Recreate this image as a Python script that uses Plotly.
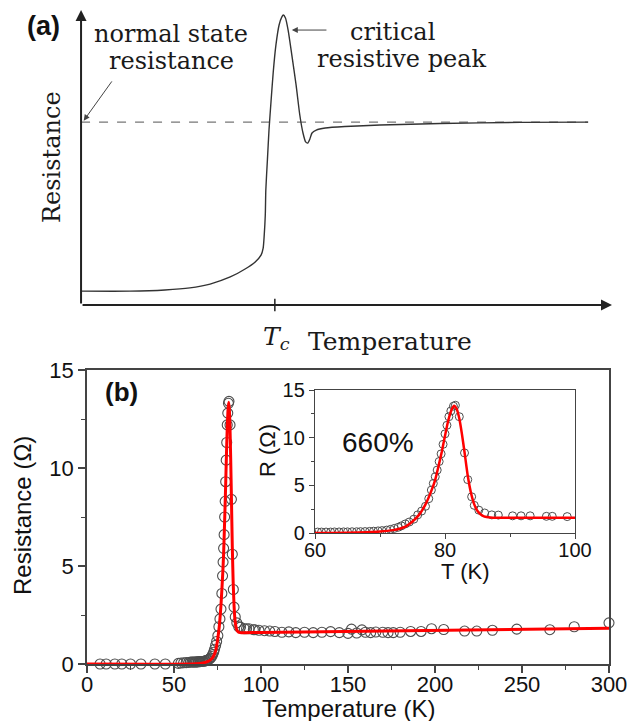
import plotly.graph_objects as go

W, H = 638, 721
OFF = 8  # page body margin that shifts the figure in the browser window

# ---------------- Panel (a): schematic curve (arbitrary units) ----------------
sch_x = [0, 9.2, 15.8, 20.5, 24.3, 28.1, 30.9, 32.8, 33.9, 34.3, 34.5, 34.7, 34.8, 35.1,
         35.4, 35.8, 36.2, 36.7, 37.3, 37.8, 38.1, 38.5, 39.0, 39.7, 40.5, 41.2, 41.8,
         42.3, 42.7, 43.1, 43.5, 44.3, 46.0, 49.7, 56.3, 67.6, 82.7, 95.5]
sch_y = [4.7, 4.7, 5.1, 5.8, 7.1, 9.5, 12.2, 14.6, 16.9, 19.3, 23.7, 30.5, 39.0, 49.2,
         59.3, 69.5, 79.0, 88.1, 94.9, 97.6, 98.3, 97.3, 93.2, 84.7, 74.6, 64.4, 58.3,
         55.3, 54.9, 56.3, 58.3, 59.3, 60.0, 60.5, 61.0, 61.5, 61.9, 62.0]
normal_level_x = [0, 95.5]
normal_level_y = [62.0, 62.0]
tc_pos = 36.5

# ---------------- Panel (b): measured data and fit ----------------
T_meas = [7.5, 11, 16, 20, 25, 31, 39, 45, 52.5, 54, 55.5, 57, 58.5, 59.5, 60.4, 61.0,
          61.7, 62.4, 63.0, 63.7, 64.4, 65.0, 65.7, 66.4, 67.0, 67.7, 68.4, 69.0, 69.7,
          70.3, 71.0, 71.6, 72.2, 72.8, 73.3, 73.9, 74.5, 75.2, 75.8, 76.4, 77.0, 77.5,
          77.9, 78.2, 78.5, 78.8, 79.1, 79.4, 79.7, 80.0, 80.3, 80.6, 80.9, 81.3, 81.6,
          82.2, 83.0, 83.5, 84.1, 84.5, 85.2, 86.1, 87.2, 88.2, 90.4, 91.7, 93.1, 95.6,
          96.5, 98.8, 102, 105, 108, 112, 116, 120, 125, 130, 135, 140, 145, 150, 152,
          155, 158, 160, 163, 166, 170, 173, 176, 180, 186, 192, 198, 205, 217, 224,
          233, 247, 266, 280, 300]
R_meas = [0, 0, 0, 0, 0, 0, 0, 0, 0.03, 0.05, 0.06, 0.07, 0.08, 0.1, 0.1, 0.1,
          0.1, 0.1, 0.11, 0.11, 0.12, 0.12, 0.13, 0.13, 0.14, 0.15, 0.17, 0.19, 0.22,
          0.25, 0.3, 0.38, 0.48, 0.6, 0.75, 0.95, 1.15, 1.45, 1.9, 2.3, 2.8, 3.6,
          4.5, 5.2, 5.9, 6.6, 7.5, 8.3, 9.3, 10.4, 11.3, 12.2, 12.8, 13.3, 13.4,
          12.2, 8.4, 5.6, 3.8, 2.9, 2.4, 2.1, 1.9, 1.88, 1.8, 1.8, 1.8, 1.75,
          1.75, 1.72, 1.7, 1.68, 1.66, 1.62, 1.64, 1.6, 1.62, 1.6, 1.62, 1.65, 1.6, 1.56, 1.78,
          1.58, 1.74, 1.62, 1.6, 1.63, 1.62, 1.6, 1.6, 1.62, 1.66, 1.66, 1.8, 1.76, 1.68, 1.68,
          1.72, 1.78, 1.75, 1.9, 2.1]

T_fit = [0, 60, 65, 68, 70, 72, 73, 74, 75, 76, 77, 78, 78.5, 79, 79.5, 80, 80.5, 81,
         81.4, 81.8, 82.2, 82.6, 83, 83.5, 84, 84.5, 85, 85.5, 86, 87, 88, 90, 100, 300]
R_fit = [0, 0, 0.03, 0.08, 0.15, 0.3, 0.45, 0.7, 1.2, 1.9, 3.0, 4.6, 5.6, 7.0, 8.5, 10.2,
         11.8, 12.9, 13.35, 13.0, 12.0, 10.4, 8.5, 6.0, 4.2, 3.0, 2.3, 1.95, 1.75, 1.63,
         1.6, 1.6, 1.61, 1.82]

main_xticks = [0, 50, 100, 150, 200, 250, 300]
main_yticks = [0, 5, 10, 15]
inset_xticks = [60, 80, 100]
inset_yticks = [0, 5, 10, 15]


def fx(px):
    return (px - OFF) / W


def fy(py):
    return 1 - (py - OFF) / H


SERIF = "DejaVu Serif"
SANS = "Liberation Sans, Arial, sans-serif"

fig = go.Figure()

# Panel (a)
fig.add_trace(go.Scatter(x=normal_level_x, y=normal_level_y, mode="lines",
                         line=dict(color="#777777", width=1.3, dash="dash"),
                         xaxis="x", yaxis="y", showlegend=False, hoverinfo="skip"))
fig.add_trace(go.Scatter(x=sch_x, y=sch_y, mode="lines",
                         line=dict(color="#333333", width=1.4, shape="spline", smoothing=0.6),
                         xaxis="x", yaxis="y", showlegend=False, hoverinfo="skip"))

# Panel (b) main
fig.add_trace(go.Scatter(x=T_meas, y=R_meas, mode="markers",
                         marker=dict(symbol="circle-open", size=10, color="#4d4d4d",
                                     line=dict(width=1.1, color="#4d4d4d")),
                         xaxis="x2", yaxis="y2", showlegend=False, cliponaxis=False))
fig.add_trace(go.Scatter(x=T_fit, y=R_fit, mode="lines",
                         line=dict(color="#ff0000", width=3, shape="spline", smoothing=0.5),
                         xaxis="x2", yaxis="y2", showlegend=False))

# Inset
fig.add_trace(go.Scatter(x=T_meas, y=R_meas, mode="markers",
                         marker=dict(symbol="circle-open", size=8, color="#4d4d4d",
                                     line=dict(width=1, color="#4d4d4d")),
                         xaxis="x3", yaxis="y3", showlegend=False))
fig.add_trace(go.Scatter(x=T_fit, y=R_fit, mode="lines",
                         line=dict(color="#ff0000", width=2.5, shape="spline", smoothing=0.5),
                         xaxis="x3", yaxis="y3", showlegend=False))

# Domains (from window pixel positions)
a_x = [fx(54.5), fx(612)]
a_y = [fy(334.5), fy(10)]
b_x = [fx(87), fx(609)]
b_y = [fy(664), fy(370)]
i_x = [fx(315), fx(575)]
i_y = [fy(533), fy(390)]

hidden = dict(showgrid=False, zeroline=False, showticklabels=False, showline=False, ticks="",
              automargin=False)

main_axis_common = dict(showgrid=False, zeroline=False, showline=True, mirror=True,
                        linecolor="#444444", linewidth=1.5, ticks="outside", ticklen=7,
                        tickwidth=1.5, tickcolor="#444444", automargin=False,
                        tickfont=dict(family=SANS, size=22, color="#111111"))
inset_axis_common = dict(showgrid=False, zeroline=False, showline=True, mirror=True,
                         linecolor="#444444", linewidth=1.3, ticks="outside", ticklen=5,
                         tickwidth=1.3, tickcolor="#444444", automargin=False,
                         tickfont=dict(family=SANS, size=20, color="#111111"))

fig.update_layout(
    width=W, height=H, autosize=False,
    margin=dict(l=0, r=0, t=0, b=0, pad=0, autoexpand=False),
    paper_bgcolor="white", plot_bgcolor="rgba(0,0,0,0)",
    xaxis=dict(domain=a_x, range=[-5, 100], anchor="y", **hidden),
    yaxis=dict(domain=a_y, range=[-10, 100], anchor="x", **hidden),
    xaxis2=dict(domain=b_x, range=[0, 300], anchor="y2", tickvals=main_xticks,
                ticklabelstandoff=-7,
                minor=dict(dtick=25, tick0=0, ticklen=4, ticks="outside", tickcolor="#444444", tickwidth=1.3),
                **main_axis_common),
    yaxis2=dict(domain=b_y, range=[0, 15], anchor="x2", tickvals=main_yticks,
                minor=dict(dtick=2.5, tick0=0, ticklen=4, ticks="outside", tickcolor="#444444", tickwidth=1.3),
                **main_axis_common),
    xaxis3=dict(domain=i_x, range=[60, 100], anchor="y3", tickvals=inset_xticks,
                ticklabelstandoff=-6,
                minor=dict(dtick=10, tick0=60, ticklen=3, ticks="outside", tickcolor="#444444", tickwidth=1.2),
                **inset_axis_common),
    yaxis3=dict(domain=i_y, range=[0, 15], anchor="x3", tickvals=inset_yticks,
                minor=dict(dtick=2.5, tick0=0, ticklen=3, ticks="outside", tickcolor="#444444", tickwidth=1.2),
                **inset_axis_common),
)

# Tc tick mark on panel (a) axis
fig.add_shape(type="line", xref="x", yref="y", x0=tc_pos, x1=tc_pos, y0=2.1, y1=-2.1,
              line=dict(color="#222222", width=1.5))

annots = []
# axis arrows of panel (a)
annots.append(dict(xref="x", yref="y", axref="x", ayref="y", x=0, y=100, ax=0, ay=0,
                   text="", showarrow=True, arrowhead=2, arrowsize=1.1, arrowwidth=2,
                   arrowcolor="#222222"))
annots.append(dict(xref="x", yref="y", axref="x", ayref="y", x=100, y=0, ax=0, ay=0,
                   text="", showarrow=True, arrowhead=2, arrowsize=1.1, arrowwidth=2,
                   arrowcolor="#222222"))
# pointer arrows
annots.append(dict(xref="x", yref="y", axref="x", ayref="y", x=0.5, y=62.5, ax=6.0, ay=76.3,
                   text="", showarrow=True, arrowhead=2, arrowsize=1.2, arrowwidth=1,
                   arrowcolor="#444444"))
annots.append(dict(xref="x", yref="y", axref="x", ayref="y", x=39.7, y=93.2, ax=46.5, ay=93.2,
                   text="", showarrow=True, arrowhead=2, arrowsize=1.2, arrowwidth=1,
                   arrowcolor="#444444"))


def text_at(px, py, txt, font, angle=0, xanchor="center"):
    annots.append(dict(xref="paper", yref="paper", x=fx(px), y=fy(py), text=txt, showarrow=False,
                       xanchor=xanchor, yanchor="middle", font=font, textangle=angle))


serif_font = dict(family=SERIF, size=24, color="#1a1a1a")
text_at(43, 26, "<b>(a)</b>", dict(family=SANS, size=27, color="#111111"))
text_at(171, 34, "normal state", serif_font)
text_at(171, 61, "resistance", serif_font)
text_at(392, 32, "critical", serif_font)
text_at(402, 59, "resistive peak", serif_font)
text_at(52, 157, "Resistance", dict(family=SERIF, size=24, color="#1a1a1a"), angle=-90)
text_at(276, 338, "<i>T</i><sub><i>c</i></sub>", dict(family=SERIF, size=25, color="#1a1a1a"))
text_at(390, 341, "Temperature", dict(family=SERIF, size=25, color="#1a1a1a"))

sans_title = dict(family=SANS, size=24, color="#111111")
text_at(121, 392, "<b>(b)</b>", dict(family=SANS, size=26, color="#111111"))
text_at(348, 708, "Temperature (K)", sans_title)
text_at(22, 516, "Resistance (Ω)", sans_title, angle=-90)
text_at(268, 451, "R (Ω)", dict(family=SANS, size=22, color="#111111"), angle=-90)
text_at(465, 571, "T (K)", dict(family=SANS, size=22, color="#111111"))
text_at(378, 443, "660%", dict(family=SANS, size=28, color="#111111"))

fig.update_layout(annotations=annots)

fig.write_html("out.html")
